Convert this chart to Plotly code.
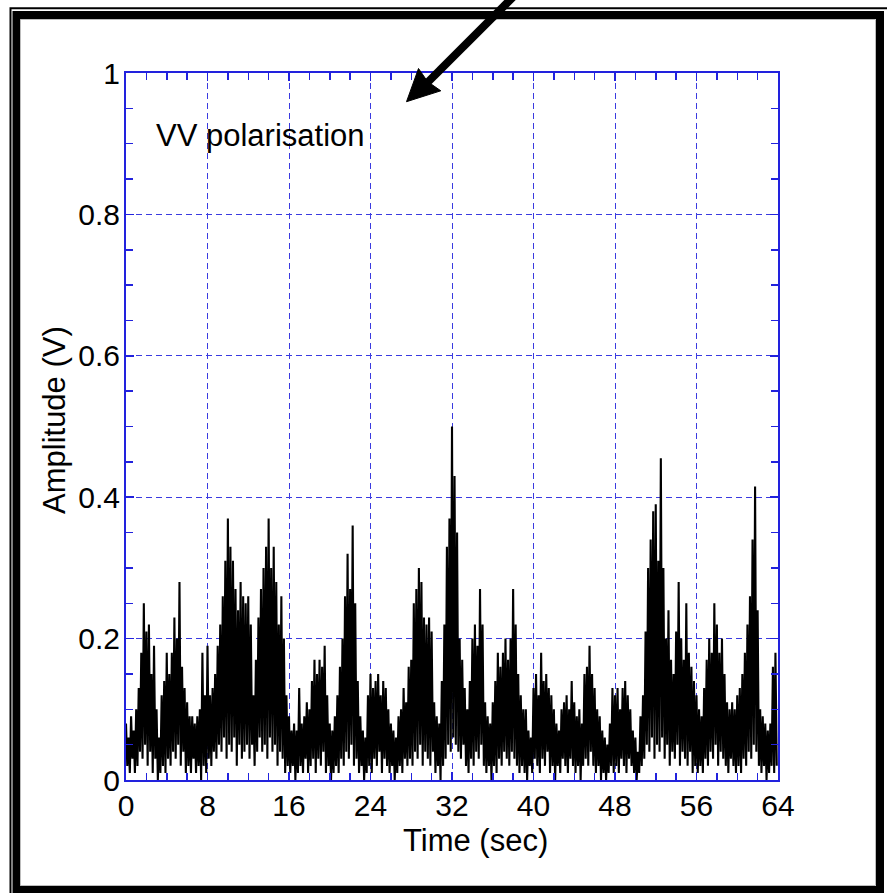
import plotly.graph_objects as go

# ---------------- data ----------------
sample_step = 0.25   # seconds between successive peak samples

peaks = [
    0.08, 0.06, 0.09, 0.07, 0.10, 0.13, 0.18, 0.25, 0.21, 0.22, 0.15, 0.19, 0.10, 0.06, 0.12, 0.14,
    0.18, 0.15, 0.18, 0.23, 0.20, 0.28, 0.16, 0.13, 0.11, 0.09, 0.09, 0.08, 0.09, 0.10, 0.18, 0.12,
    0.19, 0.12, 0.13, 0.15, 0.19, 0.22, 0.26, 0.31, 0.37, 0.33, 0.31, 0.27, 0.24, 0.28, 0.26, 0.25,
    0.26, 0.22, 0.12, 0.17, 0.23, 0.27, 0.30, 0.33, 0.37, 0.30, 0.33, 0.28, 0.22, 0.26, 0.20, 0.12,
    0.09, 0.07, 0.08, 0.07, 0.13, 0.08, 0.09, 0.11, 0.10, 0.14, 0.17, 0.15, 0.17, 0.16, 0.19, 0.12,
    0.08, 0.07, 0.09, 0.12, 0.16, 0.20, 0.26, 0.32, 0.27, 0.36, 0.25, 0.14, 0.09, 0.07, 0.06, 0.12,
    0.15, 0.13, 0.14, 0.15, 0.12, 0.14, 0.13, 0.10, 0.08, 0.07, 0.06, 0.09, 0.10, 0.13, 0.11, 0.16,
    0.17, 0.25, 0.27, 0.30, 0.28, 0.23, 0.22, 0.23, 0.21, 0.11, 0.09, 0.08, 0.14, 0.22, 0.33, 0.37,
    0.50, 0.43, 0.35, 0.20, 0.17, 0.13, 0.10, 0.14, 0.20, 0.22, 0.19, 0.27, 0.22, 0.11, 0.09, 0.08,
    0.11, 0.14, 0.18, 0.16, 0.18, 0.20, 0.17, 0.20, 0.27, 0.22, 0.15, 0.12, 0.10, 0.10, 0.07, 0.06,
    0.13, 0.15, 0.12, 0.18, 0.14, 0.15, 0.13, 0.12, 0.10, 0.08, 0.07, 0.10, 0.11, 0.12, 0.10, 0.14,
    0.11, 0.09, 0.10, 0.08, 0.15, 0.16, 0.19, 0.15, 0.13, 0.10, 0.09, 0.07, 0.06, 0.05, 0.08, 0.13,
    0.12, 0.13, 0.10, 0.13, 0.14, 0.12, 0.10, 0.07, 0.06, 0.04, 0.09, 0.12, 0.21, 0.30, 0.34, 0.38,
    0.39, 0.31, 0.455, 0.30, 0.20, 0.24, 0.17, 0.15, 0.21, 0.28, 0.20, 0.17, 0.25, 0.18, 0.16, 0.14,
    0.12, 0.10, 0.09, 0.13, 0.17, 0.20, 0.18, 0.25, 0.22, 0.18, 0.20, 0.15, 0.11, 0.10, 0.11, 0.10,
    0.12, 0.13, 0.15, 0.18, 0.22, 0.26, 0.34, 0.415, 0.24, 0.10, 0.09, 0.08, 0.07, 0.08, 0.16, 0.18,
]

troughs = [
    0.02, 0.01, 0.03, 0.01, 0.02, 0.04, 0.03, 0.05, 0.02, 0.04, 0.01, 0.03, 0.00, 0.01, 0.02, 0.01,
    0.03, 0.02, 0.04, 0.03, 0.05, 0.02, 0.04, 0.01, 0.02, 0.01, 0.03, 0.01, 0.02, 0.00, 0.02, 0.01,
    0.03, 0.02, 0.04, 0.03, 0.05, 0.04, 0.06, 0.03, 0.05, 0.04, 0.06, 0.02, 0.05, 0.03, 0.04, 0.05,
    0.03, 0.05, 0.02, 0.04, 0.06, 0.04, 0.05, 0.03, 0.06, 0.04, 0.05, 0.02, 0.04, 0.03, 0.01, 0.02,
    0.01, 0.02, 0.00, 0.01, 0.02, 0.01, 0.03, 0.01, 0.02, 0.03, 0.01, 0.03, 0.02, 0.04, 0.01, 0.02,
    0.00, 0.01, 0.02, 0.01, 0.03, 0.02, 0.04, 0.03, 0.05, 0.02, 0.03, 0.01, 0.02, 0.00, 0.01, 0.02,
    0.01, 0.03, 0.02, 0.04, 0.01, 0.03, 0.02, 0.01, 0.02, 0.00, 0.01, 0.02, 0.01, 0.03, 0.02, 0.03,
    0.02, 0.04, 0.03, 0.05, 0.02, 0.04, 0.03, 0.02, 0.04, 0.01, 0.02, 0.00, 0.02, 0.03, 0.05, 0.04,
    0.06, 0.05, 0.04, 0.03, 0.05, 0.02, 0.01, 0.03, 0.02, 0.04, 0.03, 0.05, 0.02, 0.01, 0.02, 0.00,
    0.02, 0.01, 0.03, 0.02, 0.04, 0.03, 0.02, 0.04, 0.03, 0.02, 0.01, 0.02, 0.01, 0.00, 0.02, 0.01,
    0.03, 0.02, 0.01, 0.03, 0.02, 0.04, 0.01, 0.02, 0.00, 0.02, 0.01, 0.03, 0.02, 0.01, 0.03, 0.02,
    0.01, 0.02, 0.00, 0.02, 0.03, 0.02, 0.04, 0.02, 0.01, 0.02, 0.00, 0.01, 0.00, 0.01, 0.02, 0.01,
    0.02, 0.01, 0.03, 0.02, 0.01, 0.03, 0.02, 0.01, 0.00, 0.01, 0.02, 0.03, 0.05, 0.04, 0.06, 0.03,
    0.05, 0.04, 0.06, 0.03, 0.05, 0.02, 0.04, 0.03, 0.05, 0.02, 0.04, 0.03, 0.02, 0.04, 0.01, 0.02,
    0.01, 0.02, 0.01, 0.03, 0.02, 0.04, 0.03, 0.05, 0.02, 0.04, 0.03, 0.02, 0.01, 0.03, 0.02, 0.01,
    0.02, 0.01, 0.03, 0.02, 0.04, 0.03, 0.05, 0.04, 0.02, 0.01, 0.02, 0.00, 0.01, 0.02, 0.01, 0.02,
]

x_ticks = [0, 8, 16, 24, 32, 40, 48, 56, 64]
y_ticks = [0, 0.2, 0.4, 0.6, 0.8, 1.0]
y_tick_labels = ["0", "0.2", "0.4", "0.6", "0.8", "1"]

# interleave peaks and troughs into one oscillating trace
t_vals, amp_vals = [], []
for i, (p, q) in enumerate(zip(peaks, troughs)):
    t_vals.append(i * sample_step)
    amp_vals.append(p)
    t_vals.append(i * sample_step + sample_step / 2)
    amp_vals.append(q)

# ---------------- figure ----------------
W, H = 887, 893
L, R, T, B = 126, 109, 73, 113
PW, PH = W - L - R, H - T - B


def px(x):
    return (x - L) / PW


def py(y):
    return (H - B - y) / PH


FONT = "Arial, Liberation Sans, sans-serif"
AX_BLUE = "#2222dd"
GRID_BLUE = "#3b3be0"

fig = go.Figure()
fig.add_trace(go.Scatter(
    x=t_vals, y=amp_vals, mode="lines",
    line=dict(color="black", width=2.1),
    showlegend=False, hoverinfo="skip",
))

axis_common = dict(
    showline=True, linecolor=AX_BLUE, linewidth=2, mirror="allticks",
    ticks="inside", ticklen=8, tickwidth=1.5, tickcolor=AX_BLUE,
    showgrid=True, gridcolor=GRID_BLUE, gridwidth=1, griddash="6px,4px",
    zeroline=False,
    tickfont=dict(family=FONT, size=30, color="black"),
)

fig.update_xaxes(
    range=[0, 64], tickvals=x_ticks, ticktext=[str(v) for v in x_ticks],
    minor=dict(dtick=2, ticks="inside", ticklen=7, tickcolor=AX_BLUE, tickwidth=1.5, showgrid=False),
    ticklabelstandoff=-2,
    **axis_common,
)
fig.update_yaxes(
    range=[0, 1], tickvals=y_ticks, ticktext=y_tick_labels,
    minor=dict(dtick=0.05, ticks="inside", ticklen=7, tickcolor=AX_BLUE, tickwidth=1.5, showgrid=False),
    ticklabelstandoff=-2,
    **axis_common,
)

shapes = [
    # outer thin frame line
    dict(type="rect", xref="paper", yref="paper",
         x0=px(10.5), y0=py(8.3), x1=px(892), y1=py(898),
         line=dict(color="black", width=2)),
    # thick frame
    dict(type="rect", xref="paper", yref="paper",
         x0=px(16.5), y0=py(15), x1=px(880), y1=py(890),
         line=dict(color="black", width=8)),
    # light inner edge
    dict(type="rect", xref="paper", yref="paper",
         x0=px(20.5), y0=py(19.5), x1=px(875.5), y1=py(885.5),
         line=dict(color="#bdbdbd", width=1)),
    # arrow shaft
    dict(type="line", xref="paper", yref="paper",
         x0=px(518), y0=py(-8), x1=px(427), y1=py(83),
         line=dict(color="black", width=8)),
    # arrow head
    dict(type="path", xref="paper", yref="paper",
         path="M {} {} L {} {} L {} {} L {} {} Z".format(
             px(406.5), py(101.7), px(418.5), py(68.5),
             px(427.5), py(81.5), px(440.8), py(90.8)),
         fillcolor="black", line=dict(color="black", width=1)),
]

annotations = [
    dict(text="VV polarisation", xref="paper", yref="paper",
         x=px(154), y=py(136), xanchor="left", yanchor="middle",
         showarrow=False, font=dict(family=FONT, size=31, color="black")),
    dict(text="Time (sec)", xref="paper", yref="paper",
         x=px(475.5), y=py(840), xanchor="center", yanchor="middle",
         showarrow=False, font=dict(family=FONT, size=31, color="black")),
    dict(text="Amplitude (V)", xref="paper", yref="paper",
         x=px(54), y=py(420), xanchor="center", yanchor="middle", textangle=-90,
         showarrow=False, font=dict(family=FONT, size=31, color="black")),
]

fig.update_layout(
    width=W, height=H,
    margin=dict(l=L, r=R, t=T, b=B, pad=0),
    paper_bgcolor="white", plot_bgcolor="white",
    shapes=shapes, annotations=annotations,
    showlegend=False,
)

fig.write_html("out.html", config={"displayModeBar": False, "staticPlot": True})

# remove the browser's default page margin so the figure sits at the window's corner
with open("out.html", "r", encoding="utf-8") as fh:
    html = fh.read()
html = html.replace("<head>", "<head><style>html,body{margin:0;padding:0;overflow:hidden;}</style>", 1)
with open("out.html", "w", encoding="utf-8") as fh:
    fh.write(html)
